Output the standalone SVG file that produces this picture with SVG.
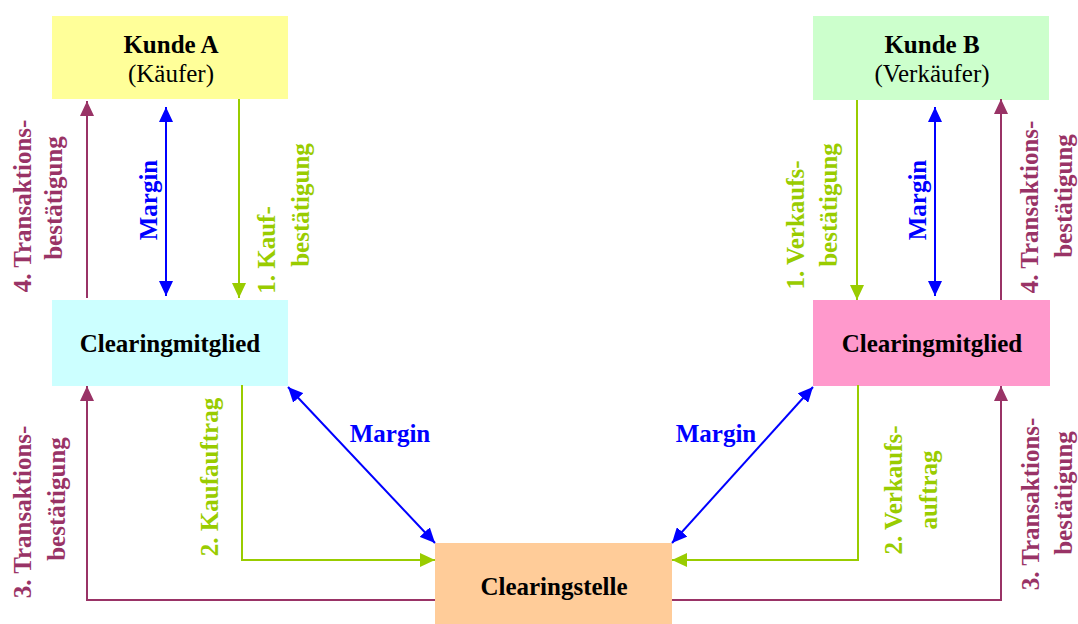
<svg xmlns="http://www.w3.org/2000/svg" width="1078" height="624" viewBox="0 0 1078 624">
<style>
text{font-family:"Liberation Serif","Times New Roman",serif;font-size:25px;font-weight:bold;text-anchor:middle}
.reg{font-weight:normal}
.node text{fill:#000}
.p{fill:#993366}.g{fill:#99CC00}.b{fill:#0000FF}
.lp{stroke:#993366;stroke-width:2;fill:none}
.lg{stroke:#99CC00;stroke-width:2;fill:none}
.lb{stroke:#0000FF;stroke-width:2;fill:none}
</style>
<defs>
<marker id="ap" markerUnits="userSpaceOnUse" markerWidth="16" markerHeight="14" refX="15" refY="7" orient="auto-start-reverse"><path d="M0,0 L15,7 L0,14 z" fill="#993366"/></marker>
<marker id="ag" markerUnits="userSpaceOnUse" markerWidth="16" markerHeight="14" refX="15" refY="7" orient="auto-start-reverse"><path d="M0,0 L15,7 L0,14 z" fill="#99CC00"/></marker>
<marker id="ab" markerUnits="userSpaceOnUse" markerWidth="16" markerHeight="14" refX="15" refY="7" orient="auto-start-reverse"><path d="M0,0 L15,7 L0,14 z" fill="#0000FF"/></marker>
</defs>
<rect width="1078" height="624" fill="#fff"/>
<g id="kundeA" class="node"><rect x="52" y="16" width="236" height="83" fill="#FFFF99"/><text x="171" y="53">Kunde A</text><text class="reg" x="171" y="82">(Käufer)</text></g>
<g id="kundeB" class="node"><rect x="813" y="16" width="236" height="84" fill="#CCFFCC"/><text x="932" y="53">Kunde B</text><text class="reg" x="932" y="82">(Verkäufer)</text></g>
<g id="cmA" class="node"><rect x="52" y="300" width="236" height="86" fill="#CCFFFF"/><text x="170" y="352">Clearingmitglied</text></g>
<g id="cmB" class="node"><rect x="813" y="300" width="237" height="86" fill="#FF99CC"/><text x="932" y="352">Clearingmitglied</text></g>
<g id="cs" class="node"><rect x="435" y="543" width="237" height="90" fill="#FFCC99"/><text x="554" y="595">Clearingstelle</text></g>
<g id="connectors">
<path class="lp" d="M87,298 L87,101" marker-end="url(#ap)"/>
<path class="lb" d="M166,107 L166,296" marker-start="url(#ab)" marker-end="url(#ab)"/>
<path class="lg" d="M239,99 L239,298" marker-end="url(#ag)"/>
<path class="lg" d="M857,100 L857,300" marker-end="url(#ag)"/>
<path class="lb" d="M935,107 L935,296" marker-start="url(#ab)" marker-end="url(#ab)"/>
<path class="lp" d="M1001,300 L1001,99" marker-end="url(#ap)"/>
<path class="lp" d="M435,600 L87,600 L87,386" marker-end="url(#ap)"/>
<path class="lp" d="M672,600 L1001,600 L1001,386" marker-end="url(#ap)"/>
<path class="lg" d="M242,385 L242,560 L435,560" marker-end="url(#ag)"/>
<path class="lg" d="M858,385 L858,560 L672,560" marker-end="url(#ag)"/>
<path class="lb" d="M288,387 L435,543" marker-start="url(#ab)" marker-end="url(#ab)"/>
<path class="lb" d="M813,387 L672,543" marker-start="url(#ab)" marker-end="url(#ab)"/>
</g>
<g id="labels">
<text class="p" transform="translate(31,206) rotate(-90)">4. Transaktions-</text>
<text class="p" transform="translate(62,198) rotate(-90)">bestätigung</text>
<text class="b" transform="translate(157,200) rotate(-90)">Margin</text>
<text class="g" transform="translate(275,250) rotate(-90)">1. Kauf-</text>
<text class="g" transform="translate(309,205) rotate(-90)">bestätigung</text>
<text class="g" transform="translate(804,225) rotate(-90)">1. Verkaufs-</text>
<text class="g" transform="translate(837,205) rotate(-90)">bestätigung</text>
<text class="b" transform="translate(926,200) rotate(-90)">Margin</text>
<text class="p" transform="translate(1038,207) rotate(-90)">4. Transaktions-</text>
<text class="p" transform="translate(1072,196) rotate(-90)">bestätigung</text>
<text class="p" transform="translate(31,512) rotate(-90)">3. Transaktions-</text>
<text class="p" transform="translate(65,499) rotate(-90)">bestätigung</text>
<text class="g" transform="translate(218,477) rotate(-90)">2. Kaufauftrag</text>
<text class="g" transform="translate(902,490) rotate(-90)">2. Verkaufs-</text>
<text class="g" transform="translate(937,490) rotate(-90)">auftrag</text>
<text class="p" transform="translate(1039,504) rotate(-90)">3. Transaktions-</text>
<text class="p" transform="translate(1072,493) rotate(-90)">bestätigung</text>
<text class="b" x="390" y="442">Margin</text>
<text class="b" x="716" y="442">Margin</text>
</g>
</svg>
